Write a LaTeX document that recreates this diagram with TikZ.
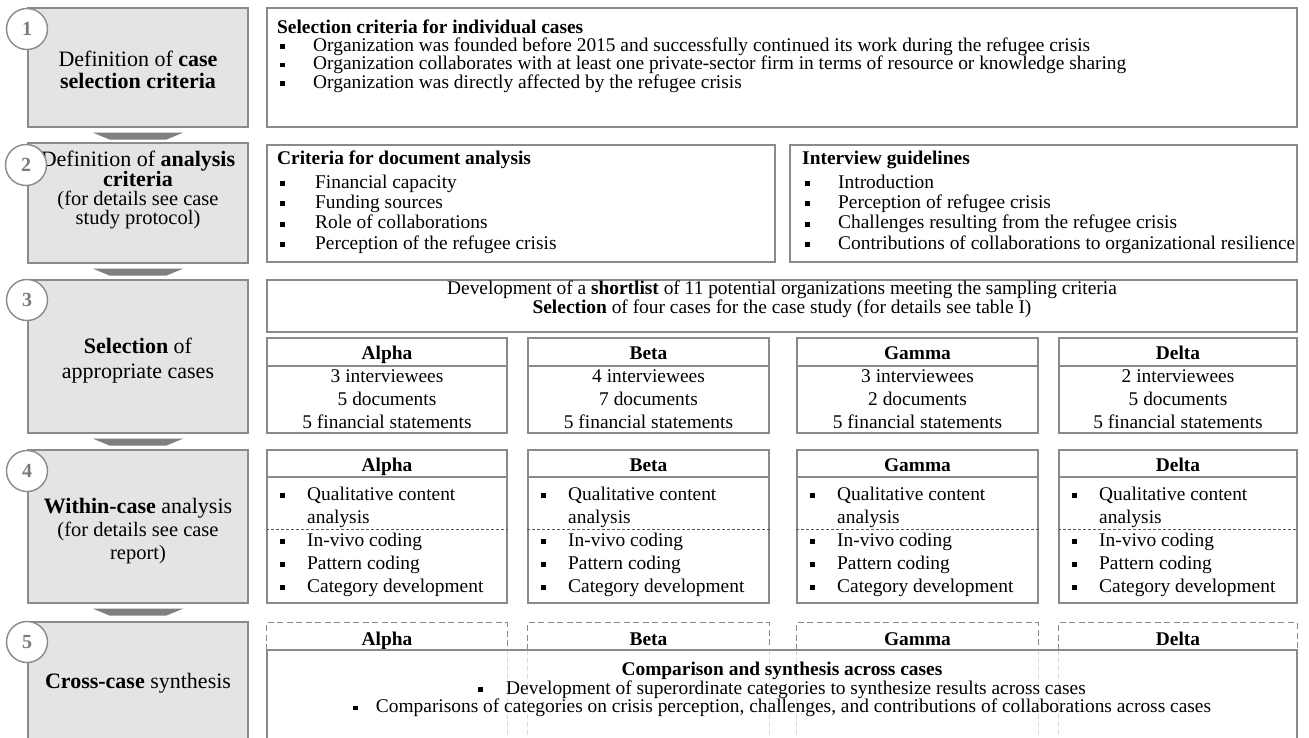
\documentclass[tikz,border=0pt]{standalone}
\usepackage{fontspec}
\setmainfont{Liberation Serif}
\usetikzlibrary{fit,calc}
\definecolor{bord}{HTML}{8A8A8A}
\definecolor{lfill}{HTML}{E4E4E4}
\definecolor{arrc}{HTML}{7F7F7F}
\definecolor{faint}{HTML}{DADADA}
\definecolor{numcol}{HTML}{7A7A7A}
\newcommand\bul[1]{\makebox[#1][l]{\rule[2.2pt]{4.8pt}{4.8pt}}}
\newcommand\fmain{\fontsize{19.4}{19.4}\selectfont}
\newcommand\fbig{\fontsize{22}{22}\selectfont}
\newcommand\fpar{\fontsize{20.5}{20.5}\selectfont}
\newcommand\chevron[1]{\fill[chev] ($(#1.south)+(-45,5)$) -- ++(90,0) -- ++(-17,7) -- ++(-56,0) -- cycle;}
\begin{document}
\begin{tikzpicture}[x=1pt,y=-1pt,
  lbox/.style={draw=bord, fill=lfill, line width=1.4pt, inner sep=0pt},
  rbox/.style={draw=bord, line width=1.4pt, inner sep=0pt},
  ebox/.style={inner sep=0pt},
  numcirc/.style={circle, draw=bord, fill=white, line width=1.4pt, minimum size=41pt, inner sep=0pt, text=numcol, font=\fontsize{20}{20}\selectfont\bfseries},
  tl/.style={inner sep=0pt, anchor=base west, font=\fmain},
  tc/.style={inner sep=0pt, anchor=base, font=\fmain},
  lt/.style={inner sep=0pt, anchor=base, font=\fbig},
  lp/.style={inner sep=0pt, anchor=base, font=\fpar},
  chev/.style={fill=arrc},
  sepline/.style={draw=bord, line width=1.2pt},
  dsep/.style={draw=black!65, line width=0.8pt, dash pattern=on 3pt off 2pt},
  dashb/.style={draw=bord, line width=1.2pt, dash pattern=on 6pt off 3.5pt},
  faintd/.style={draw=faint, line width=1pt, dash pattern=on 5pt off 3pt}
]
\useasboundingbox (0,0) rectangle (1309,737);
\clip (0,0) rectangle (1309,737);

% ---------- left step boxes ----------
\node[lbox, fit={(28,8) (248,127)}] (L1) {};
\node[lbox, fit={(28,143) (248,263)}] (L2) {};
\node[lbox, fit={(28,280) (248,433)}] (L3) {};
\node[lbox, fit={(28,450) (248,603)}] (L4) {};
\node[lbox, fit={(28,622) (248,770)}] (L5) {};

\chevron{L1}
\chevron{L2}
\chevron{L3}
\chevron{L4}

\node[lt] (l1a) at (138,66.5) {Definition of \textbf{case}};
\node[lt] (l1b) at (138,88.5) {\textbf{selection criteria}};
\node[lt] (l2a) at (138,166) {Definition of \textbf{analysis}};
\node[lt] (l2b) at (138,186) {\textbf{criteria}};
\node[lp] (l2c) at (138,205) {(for details see case};
\node[lp] (l2d) at (138,224) {study protocol)};
\node[lt] (l3a) at (138,353.5) {\textbf{Selection} of};
\node[lt] (l3b) at (138,378.5) {appropriate cases};
\node[lt] (l4a) at (138,513.5) {\textbf{Within-case} analysis};
\node[lp] (l4b) at (138,536.5) {(for details see case};
\node[lp] (l4c) at (138,559.5) {report)};
\node[lt] (l5a) at (138,688.5) {\textbf{Cross-case} synthesis};

% ---------- row 1 ----------
\node[rbox, fit={(267,8) (1297,127)}] (R1) {};
\node[tl, font=\fmain\bfseries] (h1) at (277,33) {Selection criteria for individual cases};
\node[tl] (s1) at (280,51) {\bul{33pt}Organization was founded before 2015 and successfully continued its work during the refugee crisis};
\node[tl] (s2) at (280,69.5) {\bul{33pt}Organization collaborates with at least one private-sector firm in terms of resource or knowledge sharing};
\node[tl] (s3) at (280,88) {\bul{33pt}Organization was directly affected by the refugee crisis};

% ---------- row 2 ----------
\node[rbox, fit={(267,145) (775,262)}] (R2a) {};
\node[tl, font=\fmain\bfseries] (h2a) at (277,164) {Criteria for document analysis};
\foreach \t [count=\i] in {Financial capacity, Funding sources, Role of collaborations, Perception of the refugee crisis}
  \node[tl] (d\i) at (280,{188+(\i-1)*20.4}) {\bul{35pt}\t};
\node[rbox, fit={(790,145) (1297,262)}] (R2b) {};
\node[tl, font=\fmain\bfseries] (h2b) at (802,164) {Interview guidelines};
\foreach \t [count=\i] in {Introduction, Perception of refugee crisis, Challenges resulting from the refugee crisis, Contributions of collaborations to organizational resilience}
  \node[tl] (g\i) at (805,{188+(\i-1)*20.4}) {\bul{33pt}\t};

% ---------- row 3 ----------
\node[rbox, fit={(267,280) (1297,332)}] (R3) {};
\node[tc] (sl1) at (782,294) {Development of a \textbf{shortlist} of 11 potential organizations meeting the sampling criteria};
\node[tc] (sl2) at (782,313) {\textbf{Selection} of four cases for the case study (for details see table I)};

\foreach \nm/\xa/\xb/\ttl/\ni/\nd in {A/267/507/Alpha/3/5, B/528/769/Beta/4/7, G/797/1038/Gamma/3/2, D/1059/1297/Delta/2/5} {
  \pgfmathsetmacro\xc{(\xa+\xb)/2}
  \pgfmathsetmacro\xl{\xa+13}
  \pgfmathsetmacro\xt{\xa+40}
  % row 3 case box
  \node[rbox, fit={(\xa,338) (\xb,433)}] (\nm3) {};
  \draw[sepline] (\nm3.west |- 0,366) -- (\nm3.east |- 0,366);
  \node[tc, font=\fmain\bfseries] (\nm3h) at (\xc,359) {\ttl};
  \node[tc] (\nm3a) at (\xc,382.5) {\ni\ interviewees};
  \node[tc] (\nm3b) at (\xc,405.5) {\nd\ documents};
  \node[tc] (\nm3c) at (\xc,428.5) {5 financial statements};
  % row 4 case box
  \node[rbox, fit={(\xa,450) (\xb,603)}] (\nm4) {};
  \draw[sepline] (\nm4.west |- 0,477) -- (\nm4.east |- 0,477);
  \draw[dsep] (\nm4.west |- 0,529) -- (\nm4.east |- 0,529);
  \node[tc, font=\fmain\bfseries] (\nm4h) at (\xc,471) {\ttl};
  \node[tl] (\nm4a) at (\xl,500) {\bul{27pt}Qualitative content};
  \node[tl] (\nm4b) at (\xt,523) {analysis};
  \node[tl] (\nm4c) at (\xl,546) {\bul{27pt}In-vivo coding};
  \node[tl] (\nm4d) at (\xl,569) {\bul{27pt}Pattern coding};
  \node[tl] (\nm4e) at (\xl,592) {\bul{27pt}Category development};
  % row 5 dashed header
  \node[ebox, fit={(\xa,623) (\xb,650)}] (\nm5) {};
  \draw[dashb] (\nm5.south west) -- (\nm5.north west) -- (\nm5.north east) -- (\nm5.south east);
  \draw[faintd] (\nm5.south west) -- ++(0,110);
  \draw[faintd] (\nm5.south east) -- ++(0,110);
  \node[tc, font=\fmain\bfseries] (\nm5h) at (\xc,645) {\ttl};
}

% ---------- row 5 ----------
\node[rbox, fit={(267,650) (1297,770)}] (R5) {};
\node[tc, font=\fmain\bfseries] (c0) at (782,675.5) {Comparison and synthesis across cases};
\node[tc] (c1) at (782,694) {\bul{28pt}Development of superordinate categories to synthesize results across cases};
\node[tc] (c2) at (782,712.5) {\bul{23pt}Comparisons of categories on crisis perception, challenges, and contributions of collaborations across cases};

% ---------- step numbers ----------
\node[numcirc] (n1) at (27,29) {1};
\node[numcirc] (n2) at (26,165) {2};
\node[numcirc] (n3) at (27,300) {3};
\node[numcirc] (n4) at (27,471) {4};
\node[numcirc] (n5) at (27,642) {5};
\end{tikzpicture}
\end{document}
